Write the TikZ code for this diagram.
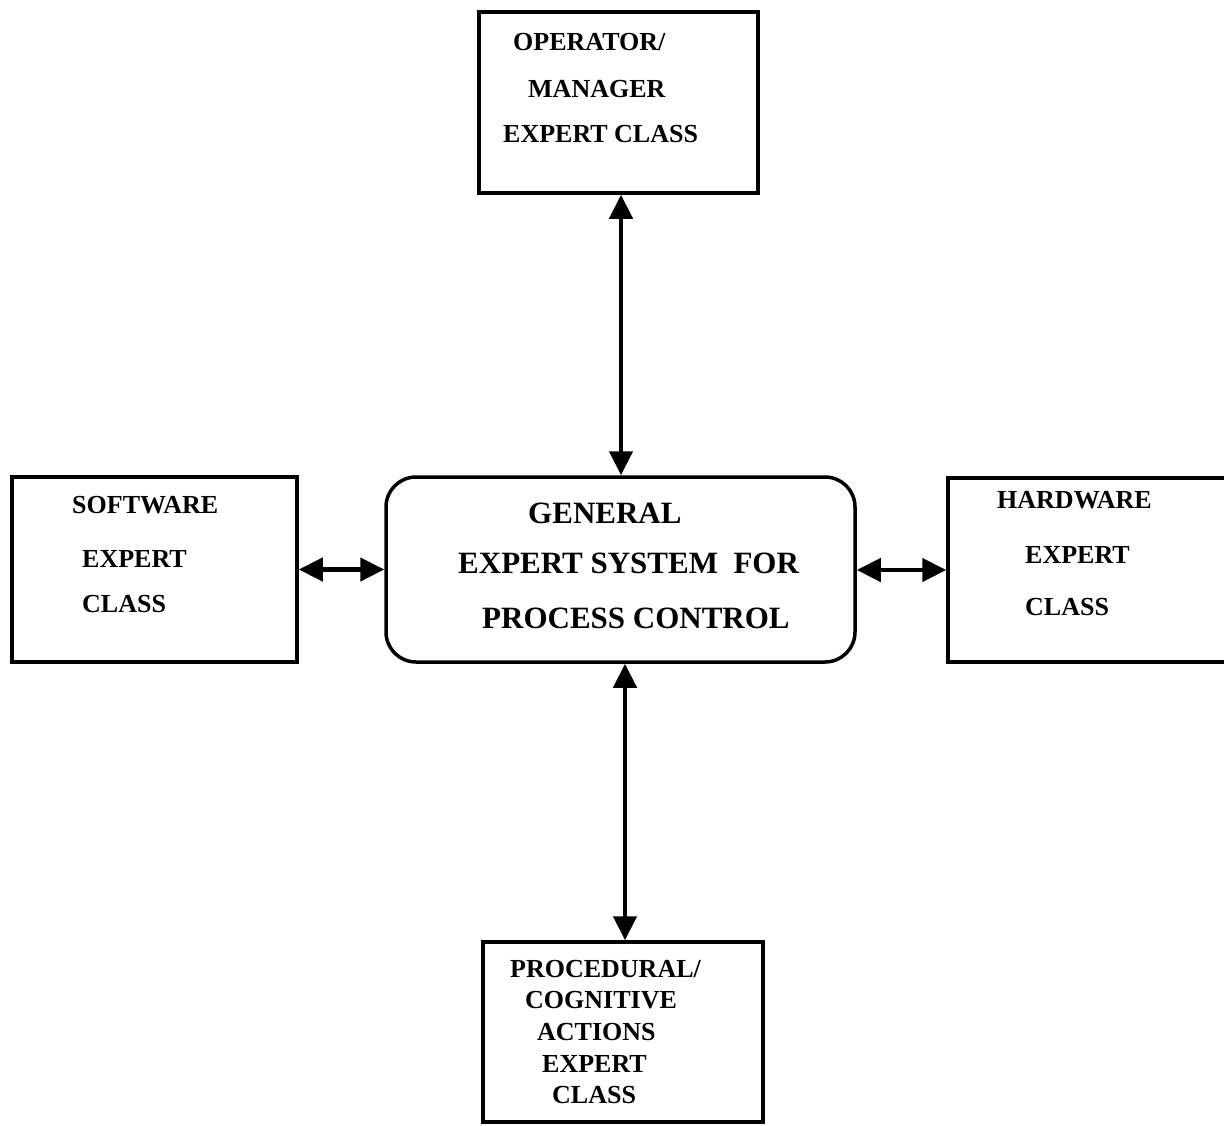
\documentclass[tikz,border=0pt]{standalone}
\usepackage{fontspec}
\setmainfont{Liberation Serif}
\usetikzlibrary{arrows.meta}
\begin{document}
\begin{tikzpicture}[x=1pt,y=-1pt,
  classbox/.style={draw, line width=3.5pt, rectangle, inner sep=0pt},
  corebox/.style={draw, line width=3.5pt, rectangle, rounded corners=30pt, inner sep=0pt},
  lbl/.style={anchor=base west, inner sep=0pt, font=\fontsize{26}{30}\selectfont\bfseries},
  biglbl/.style={anchor=base west, inner sep=0pt, font=\fontsize{31}{36}\selectfont\bfseries},
  link/.style={line width=4.5pt, {Triangle[length=24pt,width=23pt]}-{Triangle[length=24pt,width=23pt]}}]
  \useasboundingbox[fill=white] (0,0) rectangle (1224,1125);

  % boxes
  \node[classbox, minimum width=279pt, minimum height=181pt] (op)  at (618.5,102.5) {};
  \node[corebox,  minimum width=469pt, minimum height=185pt] (ges) at (620.5,569.5) {};
  \node[classbox, minimum width=285pt, minimum height=185pt] (sw)  at (154.5,569.5) {};
  \node[classbox, minimum width=288pt, minimum height=184pt] (hw)  at (1092,570) {};
  \node[classbox, minimum width=280pt, minimum height=180pt] (pc)  at (623,1032) {};

  % labels
  \node[lbl] (op1) at (513,50)  {OPERATOR/};
  \node[lbl] (op2) at (528,97)  {MANAGER};
  \node[lbl] (op3) at (503,142) {EXPERT CLASS};

  \node[biglbl] (g1) at (528,523) {GENERAL};
  \node[biglbl] (g2) at (458,573) {EXPERT SYSTEM\ \ FOR};
  \node[biglbl] (g3) at (482,628) {PROCESS CONTROL};

  \node[lbl] (sw1) at (72,513) {SOFTWARE};
  \node[lbl] (sw2) at (82,567) {EXPERT};
  \node[lbl] (sw3) at (82,612) {CLASS};

  \node[lbl] (hw1) at (997,508)  {HARDWARE};
  \node[lbl] (hw2) at (1025,563) {EXPERT};
  \node[lbl] (hw3) at (1025,615) {CLASS};

  \node[lbl] (pc1) at (510,977)  {PROCEDURAL/};
  \node[lbl] (pc2) at (525,1008) {COGNITIVE};
  \node[lbl] (pc3) at (537,1040) {ACTIONS};
  \node[lbl] (pc4) at (542,1072) {EXPERT};
  \node[lbl] (pc5) at (552,1103) {CLASS};

  % two-way links
  \draw[link] ([xshift=2.5pt]op.south) -- ([xshift=2.5pt]op.south |- ges.north);
  \draw[link] ([xshift=2pt]pc.north) -- ([xshift=2pt]pc.north |- ges.south);
  \draw[link] (sw.east) -- (sw.east -| ges.west);
  \draw[link] (hw.west) -- (hw.west -| ges.east);
\end{tikzpicture}
\end{document}
